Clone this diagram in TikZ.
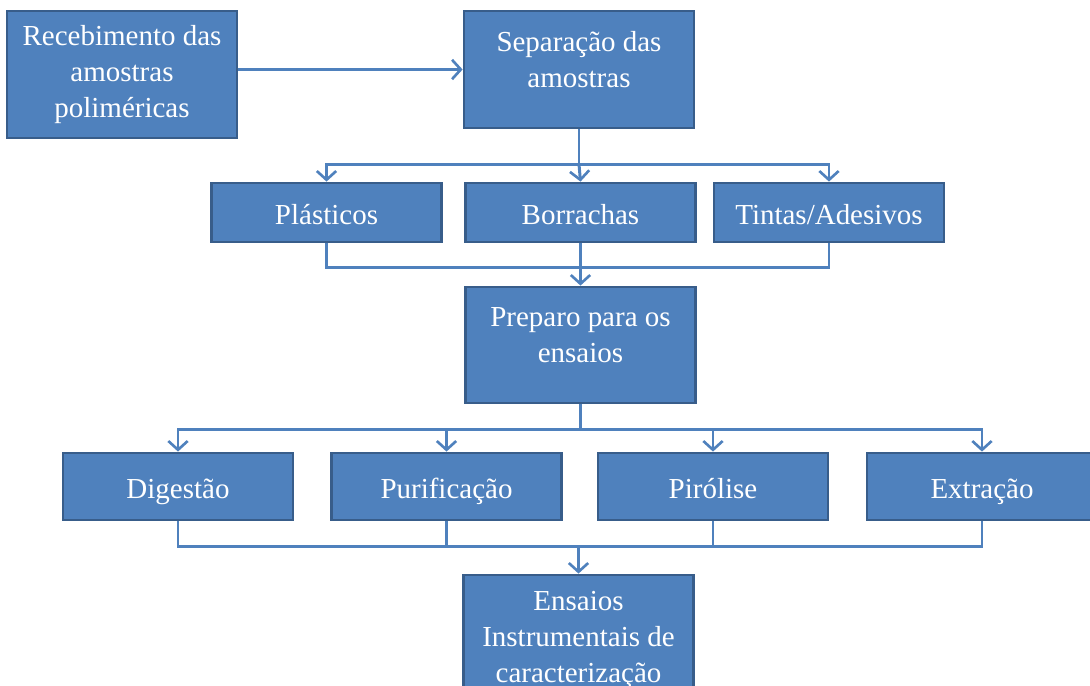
\documentclass[tikz,border=0pt]{standalone}
\usepackage{fontspec}
\setmainfont{Liberation Serif}
\usetikzlibrary{positioning, arrows.meta}
\definecolor{boxblue}{HTML}{4F81BD}
\definecolor{boxedge}{HTML}{385D8A}
\tikzset{
    box/.style={draw=boxedge, line width=1.6pt, fill=boxblue, text=white, align=center,
        minimum width=4.6cm, inner sep=2pt, font=\fontsize{16.5}{20.5}\selectfont}, % blue step boxes
    oneline/.style={text height=15.5pt, text depth=1.6pt}, % same baseline for one-line boxes
    toptext/.style={text depth=0.39cm}, % pushes the text towards the top of the box
    link/.style={draw=boxblue, line width=1.7pt}, % plain connector
    arrow/.style={link, -{Straight Barb[length=5pt, width=11pt, line width=1.5pt]}}, % connector with open head
}

\begin{document}
\begin{tikzpicture}[x=0.02cm, y=-0.02cm]
        \clip (0,0) rectangle (1090,686);

        % Boxes
        % \node[<options>] (name) at (x,y) {text};
        \node[box, minimum height=2.54cm] (rec) at (122,74.5) {Recebimento das\\amostras\\poliméricas};
        \node[box, toptext, minimum height=2.34cm] (sep) at (579,69.5) {Separação das\\amostras};

        \node[box, oneline, minimum height=1.18cm] (pla) at (326.5,212.5) {Plásticos};
        \node[box, oneline, minimum height=1.18cm] (bor) at (580.5,212.5) {Borrachas};
        \node[box, oneline, minimum height=1.18cm] (tin) at (829,212.5) {Tintas/Adesivos};

        \node[box, toptext, minimum height=2.32cm] (pre) at (580.5,345) {Preparo para os\\ensaios};

        \node[box, oneline, minimum height=1.34cm] (dig) at (178,486.5) {Digestão};
        \node[box, oneline, minimum height=1.34cm] (pur) at (446.5,486.5) {Purificação};
        \node[box, oneline, minimum height=1.34cm] (pir) at (713,486.5) {Pirólise};
        \node[box, oneline, minimum height=1.34cm] (ext) at (982,486.5) {Extração};

        \node[box, minimum height=2.6cm] (ens) at (578.5,640) {Ensaios\\Instrumentais de\\caracterização};

        % fork and join points
        \coordinate[below=0.7cm of sep.south] (fork1);
        \coordinate[below=0.48cm of bor.south] (join1);
        \coordinate[below=0.5cm of pre.south] (fork2);
        \coordinate[below=0.5cm of ens.north |- dig.south] (join2);

        % Connectors
        \draw[arrow] (rec.east |- sep.west) -- (sep.west);

        \draw[link]  (sep.south) -- (fork1);
        \draw[arrow] (fork1) -| (pla.north);
        \draw[arrow] (fork1) -- (bor.north);
        \draw[arrow] (fork1) -| (tin.north);

        \draw[link]  (pla.south) |- (join1) -| (tin.south);
        \draw[arrow] (bor.south) -- (pre.north);

        \draw[link]  (pre.south) -- (fork2);
        \draw[arrow] (fork2) -| (dig.north);
        \draw[arrow] (fork2) -| (pur.north);
        \draw[arrow] (fork2) -| (pir.north);
        \draw[arrow] (fork2) -| (ext.north);

        \draw[link]  (dig.south) |- (join2) -| (ext.south);
        \draw[link]  (pur.south) -- (pur.south |- join2);
        \draw[link]  (pir.south) -- (pir.south |- join2);
        \draw[arrow] (join2) -- (ens.north);
\end{tikzpicture}
\end{document}
